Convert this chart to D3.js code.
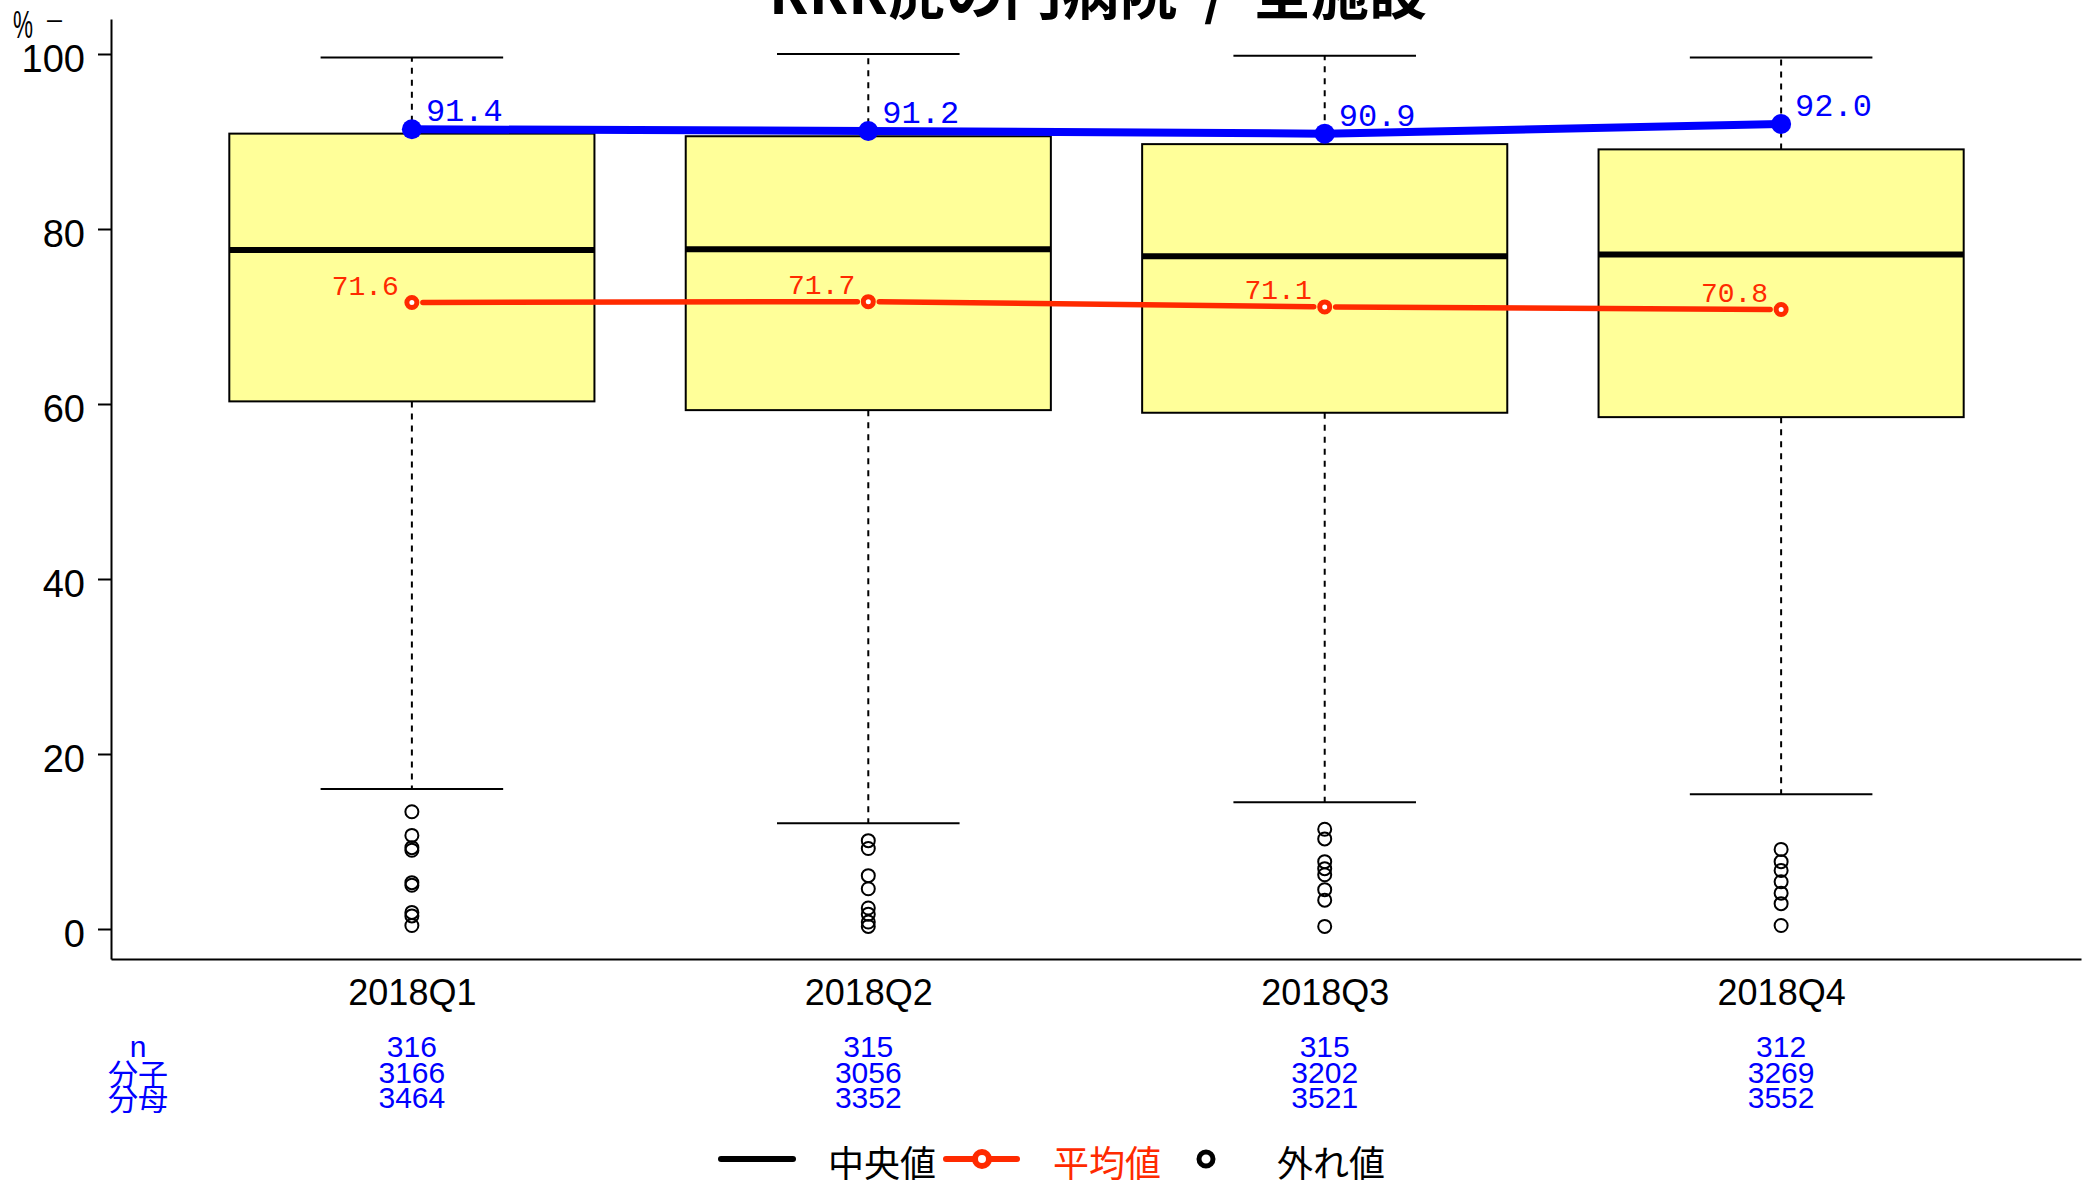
<!DOCTYPE html>
<html><head><meta charset="utf-8">
<script src="https://cdn.jsdelivr.net/npm/d3@7"></script>
<style>
html,body{margin:0;padding:0;background:#fff;}
svg{display:block;}
</style></head>
<body>
<svg id="chart" width="2089" height="1180"></svg>
<script>
const title = "RRR虎の門病院 / 全施設";
const categories = ["2018Q1","2018Q2","2018Q3","2018Q4"];
const whiskerHigh = [99.6, 100.0, 99.8, 99.6];
const q3 = [90.9, 90.6, 89.7, 89.1];
const median = [77.6, 77.7, 76.9, 77.1];
const q1 = [60.3, 59.3, 59.0, 58.5];
const whiskerLow = [16.0, 12.1, 14.5, 15.4];
const outliersQ1 = [13.4, 10.7, 9.3, 9.0, 5.3, 5.0, 1.9, 1.5, 0.4];
const outliersQ2 = [10.1, 9.2, 6.1, 4.6, 2.4, 1.7, 0.8, 0.3];
const outliersQ3 = [11.4, 10.3, 7.7, 6.9, 6.2, 4.5, 3.3, 0.3];
const outliersQ4 = [9.1, 7.7, 6.7, 5.4, 4.1, 2.9, 0.4];
const meanValues = [71.6, 71.7, 71.1, 70.8];
const topValues = [91.4, 91.2, 90.9, 92.0];
const nCounts = [316, 315, 315, 312];
const numerators = [3166, 3056, 3202, 3269];
const denominators = [3464, 3352, 3521, 3552];
const yTicks = [0, 20, 40, 60, 80, 100];
const tableLabels = ["n", "分子", "分母"];
const legendLabels = ["中央値", "平均値", "外れ値"];

(function () {
const outliers = [outliersQ1, outliersQ2, outliersQ3, outliersQ4];
const BLUE = "#0000FF", RED = "#FF2A00", BOXFILL = "#FFFF99";
const SANS = "'Liberation Sans', Arial, sans-serif";
const CJK = "'Noto Sans CJK JP', 'Liberation Sans', sans-serif";
const MONO = "'Liberation Mono', 'DejaVu Sans Mono', monospace";

const svg = d3.select("#chart");
const pLeft = 111, pRight = 2081, pTop = 19, pBottom = 959;
const x = d3.scaleLinear().domain([1 - 301/456.6, 4 + 300/456.6]).range([pLeft, pRight]);
const y = d3.scaleLinear().domain([-30/8.75, 100 + 35/8.75]).range([pBottom, pTop]);
const pos = i => x(i + 1);
const bw = x(1.4) - x(1);   // half box width
const sw = x(1.2) - x(1);   // half staple width

// Title
svg.append("text").attr("x", (pLeft + pRight) / 2 + 2).attr("y", 14)
  .attr("text-anchor", "middle").attr("font-family", CJK).attr("font-weight", "bold")
  .attr("font-size", 58).style("white-space", "pre")
  .text(title.replace(" / ", "  /  "));

// Y axis
const yAxis = d3.axisLeft(y).tickValues(yTicks).tickSize(13).tickSizeOuter(0).tickPadding(13);
const gy = svg.append("g").attr("transform", `translate(${pLeft},0)`).call(yAxis);
gy.selectAll("text").attr("font-family", SANS).attr("font-size", 38).attr("fill", "#000").attr("dy", "0.46em");
gy.selectAll("line").attr("stroke", "#000").attr("stroke-width", 2);
gy.select(".domain").attr("stroke", "#000").attr("stroke-width", 2);

// X axis
const xAxis = d3.axisBottom(x).tickValues([1,2,3,4]).tickFormat((d) => categories[d-1])
  .tickSize(0).tickSizeOuter(0).tickPadding(20);
const gx = svg.append("g").attr("transform", `translate(0,${pBottom})`).call(xAxis);
gx.selectAll("text").attr("font-family", SANS).attr("font-size", 36).attr("fill", "#000");
gx.select(".domain").attr("stroke", "#000").attr("stroke-width", 2);

// % label
svg.append("text").attr("x", 13).attr("y", 38).attr("font-family", SANS).attr("font-size", 38)
  .attr("textLength", 20).attr("lengthAdjust", "spacingAndGlyphs").text("%");
svg.append("text").attr("x", 47).attr("y", 28).attr("font-family", SANS).attr("font-size", 27)
  .attr("textLength", 15).attr("lengthAdjust", "spacingAndGlyphs").text("–");

// Boxes
const g = svg.append("g");
categories.forEach((c, i) => {
  const cx = pos(i);
  g.append("line").attr("x1", cx).attr("x2", cx).attr("y1", y(q3[i])).attr("y2", y(whiskerHigh[i]))
    .attr("stroke", "#000").attr("stroke-width", 2).attr("stroke-dasharray", "6,6");
  g.append("line").attr("x1", cx).attr("x2", cx).attr("y1", y(q1[i])).attr("y2", y(whiskerLow[i]))
    .attr("stroke", "#000").attr("stroke-width", 2).attr("stroke-dasharray", "6,6");
  [whiskerHigh[i], whiskerLow[i]].forEach(v => {
    g.append("line").attr("x1", cx - sw).attr("x2", cx + sw).attr("y1", y(v)).attr("y2", y(v))
      .attr("stroke", "#000").attr("stroke-width", 2);
  });
  g.append("rect").attr("x", cx - bw).attr("width", 2 * bw)
    .attr("y", y(q3[i])).attr("height", y(q1[i]) - y(q3[i]))
    .attr("fill", BOXFILL).attr("stroke", "#000").attr("stroke-width", 2);
  g.append("line").attr("x1", cx - bw).attr("x2", cx + bw).attr("y1", y(median[i])).attr("y2", y(median[i]))
    .attr("stroke", "#000").attr("stroke-width", 6);
  outliers[i].forEach(v => {
    g.append("circle").attr("cx", cx).attr("cy", y(v)).attr("r", 6.5)
      .attr("fill", "none").attr("stroke", "#000").attr("stroke-width", 2);
  });
});

// Mean line (gaps around points)
const gap = 11;
for (let i = 0; i < meanValues.length - 1; i++) {
  const x1 = pos(i), y1 = y(meanValues[i]), x2 = pos(i+1), y2 = y(meanValues[i+1]);
  const L = Math.hypot(x2-x1, y2-y1), ux = (x2-x1)/L, uy = (y2-y1)/L;
  svg.append("line").attr("x1", x1 + ux*gap).attr("y1", y1 + uy*gap)
    .attr("x2", x2 - ux*gap).attr("y2", y2 - uy*gap)
    .attr("stroke", RED).attr("stroke-width", 5.5).attr("stroke-linecap", "round");
}
meanValues.forEach((v, i) => {
  svg.append("circle").attr("cx", pos(i)).attr("cy", y(v)).attr("r", 5)
    .attr("fill", "#fff").attr("stroke", RED).attr("stroke-width", 5);
  svg.append("text").attr("x", pos(i) - 13).attr("y", y(v) - 8).attr("text-anchor", "end")
    .attr("font-family", MONO).attr("font-size", 28).attr("fill", RED).text(v.toFixed(1));
});

// Top (blue) line
const line = d3.line().x((d, i) => pos(i)).y(d => y(d));
svg.append("path").datum(topValues).attr("d", line).attr("fill", "none")
  .attr("stroke", BLUE).attr("stroke-width", 8);
topValues.forEach((v, i) => {
  svg.append("circle").attr("cx", pos(i)).attr("cy", y(v)).attr("r", 10).attr("fill", BLUE);
  svg.append("text").attr("x", pos(i) + 14).attr("y", y(v) - 8)
    .attr("font-family", MONO).attr("font-size", 32).attr("fill", BLUE).text(v.toFixed(1));
});

// Table below
const rowsY = [1046, 1072, 1097];
const rows = [nCounts, numerators, denominators];
tableLabels.forEach((t, r) => {
  svg.append("text").attr("x", 138).attr("y", rowsY[r]).attr("text-anchor", "middle")
    .attr("dominant-baseline", "central").attr("font-family", r === 0 ? SANS : CJK)
    .attr("font-size", 30).attr("fill", BLUE).text(t);
  rows[r].forEach((v, i) => {
    svg.append("text").attr("x", pos(i)).attr("y", rowsY[r]).attr("text-anchor", "middle")
      .attr("dominant-baseline", "central").attr("font-family", SANS)
      .attr("font-size", 30).attr("fill", BLUE).text(v);
  });
});

// Legend
const ly = 1159;
const lg = svg.append("g");
lg.append("line").attr("x1", 721).attr("x2", 793).attr("y1", ly).attr("y2", ly)
  .attr("stroke", "#000").attr("stroke-width", 6).attr("stroke-linecap", "round");
lg.append("text").attr("x", 828).attr("y", ly + 2).attr("dominant-baseline", "central")
  .attr("font-family", CJK).attr("font-size", 36).attr("fill", "#000").text(legendLabels[0]);
lg.append("line").attr("x1", 946).attr("x2", 1017).attr("y1", ly).attr("y2", ly)
  .attr("stroke", RED).attr("stroke-width", 6).attr("stroke-linecap", "round");
lg.append("circle").attr("cx", 982).attr("cy", ly).attr("r", 7).attr("fill", "#fff")
  .attr("stroke", RED).attr("stroke-width", 6);
lg.append("text").attr("x", 1053).attr("y", ly + 2).attr("dominant-baseline", "central")
  .attr("font-family", CJK).attr("font-size", 36).attr("fill", RED).text(legendLabels[1]);
lg.append("circle").attr("cx", 1206).attr("cy", ly).attr("r", 7).attr("fill", "none")
  .attr("stroke", "#000").attr("stroke-width", 5);
lg.append("text").attr("x", 1277).attr("y", ly + 2).attr("dominant-baseline", "central")
  .attr("font-family", CJK).attr("font-size", 36).attr("fill", "#000").text(legendLabels[2]);
})();
</script>
</body></html>
